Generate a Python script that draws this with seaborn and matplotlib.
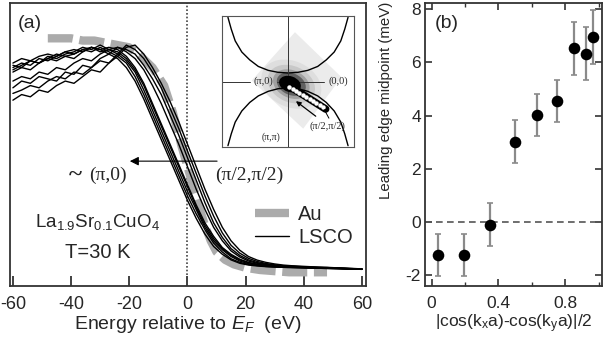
"""
ARPES leading-edge figure: (a) EDCs of LSCO vs Au reference, (b) leading edge
midpoint versus |cos(kx a) - cos(ky a)|/2.
"""
import numpy as np
import pandas as pd
import matplotlib
matplotlib.use('Agg')
import matplotlib.pyplot as plt
import seaborn as sns
from matplotlib.lines import Line2D
from matplotlib.patches import Polygon, Ellipse

# ── Data: panel (a) ──────────────────────────────────────────────────────────
energy = [-60, -57, -54, -51, -48, -45, -42, -39, -36, -33, -30, -27, -24, -21,
          -18, -15, -12, -9, -6, -3, 0, 3, 6, 9, 12, 15, 18, 21, 24, 27, 30,
          33, 36, 39, 42, 45, 48, 51, 54, 57, 60]

lsco_edcs = {
    'L1': [0.92, 0.94, 0.93, 0.95, 0.96, 0.95, 0.97, 0.98, 0.97, 0.99, 0.98, 0.96, 0.94, 0.90,
           0.84, 0.76, 0.67, 0.58, 0.49, 0.40, 0.31, 0.23, 0.16, 0.105, 0.07, 0.045, 0.03,
           0.022, 0.018, 0.015, 0.013, 0.012, 0.011, 0.010, 0.009, 0.008, 0.007, 0.006,
           0.005, 0.004, 0.003],
    'L2': [0.91, 0.90, 0.93, 0.92, 0.94, 0.96, 0.95, 0.96, 0.98, 0.97, 0.99, 0.97, 0.95, 0.92,
           0.86, 0.78, 0.69, 0.60, 0.51, 0.42, 0.33, 0.25, 0.18, 0.12, 0.08, 0.05, 0.034,
           0.025, 0.020, 0.016, 0.014, 0.012, 0.011, 0.010, 0.009, 0.008, 0.007, 0.006,
           0.005, 0.004, 0.003],
    'L3': [0.90, 0.92, 0.91, 0.94, 0.93, 0.95, 0.97, 0.96, 0.98, 0.99, 0.97, 0.98, 0.96, 0.93,
           0.88, 0.80, 0.71, 0.62, 0.53, 0.44, 0.35, 0.27, 0.19, 0.13, 0.09, 0.06, 0.04,
           0.028, 0.022, 0.018, 0.015, 0.013, 0.012, 0.011, 0.010, 0.009, 0.008, 0.007,
           0.006, 0.005, 0.004],
    'L4': [0.89, 0.91, 0.93, 0.92, 0.95, 0.94, 0.96, 0.97, 0.99, 0.98, 1.00, 0.98, 0.97, 0.94,
           0.89, 0.82, 0.73, 0.64, 0.55, 0.46, 0.37, 0.28, 0.20, 0.14, 0.095, 0.065, 0.045,
           0.032, 0.025, 0.020, 0.017, 0.015, 0.013, 0.012, 0.011, 0.010, 0.009, 0.008,
           0.006, 0.005, 0.004],
    'L5': [0.88, 0.90, 0.89, 0.92, 0.94, 0.93, 0.95, 0.94, 0.97, 0.99, 0.98, 0.99, 0.98, 0.95,
           0.90, 0.83, 0.74, 0.65, 0.56, 0.47, 0.38, 0.29, 0.21, 0.15, 0.10, 0.07, 0.048,
           0.034, 0.026, 0.021, 0.018, 0.016, 0.014, 0.012, 0.011, 0.010, 0.009, 0.008,
           0.007, 0.005, 0.004],
    'R1': [0.84, 0.86, 0.85, 0.88, 0.87, 0.90, 0.89, 0.92, 0.94, 0.93, 0.96, 0.98, 0.99, 0.97,
           0.94, 0.89, 0.82, 0.74, 0.65, 0.56, 0.46, 0.36, 0.27, 0.19, 0.13, 0.085, 0.058,
           0.040, 0.030, 0.024, 0.020, 0.017, 0.015, 0.013, 0.012, 0.011, 0.010, 0.008,
           0.007, 0.005, 0.004],
    'R2': [0.81, 0.84, 0.83, 0.86, 0.85, 0.84, 0.88, 0.87, 0.91, 0.90, 0.94, 0.96, 0.99, 0.98,
           0.96, 0.91, 0.85, 0.78, 0.69, 0.60, 0.50, 0.40, 0.30, 0.21, 0.145, 0.095, 0.065,
           0.045, 0.033, 0.026, 0.021, 0.018, 0.016, 0.014, 0.012, 0.011, 0.010, 0.009,
           0.007, 0.006, 0.004],
    'R3': [0.785, 0.80, 0.82, 0.81, 0.84, 0.86, 0.85, 0.88, 0.87, 0.90, 0.93, 0.92, 0.96, 1.00,
           0.98, 0.94, 0.88, 0.81, 0.72, 0.63, 0.53, 0.43, 0.33, 0.24, 0.165, 0.11, 0.075,
           0.052, 0.038, 0.029, 0.023, 0.019, 0.017, 0.015, 0.013, 0.012, 0.011, 0.009,
           0.008, 0.006, 0.005],
    'R4': [0.755, 0.78, 0.77, 0.80, 0.79, 0.82, 0.84, 0.83, 0.86, 0.89, 0.88, 0.92, 0.95, 0.99,
           1.00, 0.96, 0.90, 0.83, 0.75, 0.66, 0.56, 0.46, 0.36, 0.27, 0.19, 0.13, 0.088,
           0.060, 0.044, 0.034, 0.027, 0.022, 0.019, 0.017, 0.015, 0.013, 0.012, 0.010,
           0.008, 0.007, 0.005],
}

au_energy = [-48, -44, -40, -36, -32, -28, -24, -20, -16, -12, -8, -5, -2, 0, 2, 4, 6, 8,
             10, 13, 16, 20, 25, 30, 35, 40, 45, 48]
au_intensity = [1.03, 1.03, 1.03, 1.02, 1.02, 1.01, 1.00, 0.99, 0.95, 0.90, 0.82, 0.70,
                0.55, 0.46, 0.37, 0.28, 0.20, 0.13, 0.08, 0.045, 0.025, 0.01, 0.0, -0.005,
                -0.01, -0.01, -0.01, -0.01]

# ── Data: panel (b) ──────────────────────────────────────────────────────────
fs_param = [0.04, 0.196, 0.35, 0.50, 0.63, 0.75, 0.85, 0.924, 0.966]
midpoint = [-1.25, -1.25, -0.1, 3.02, 4.02, 4.54, 6.53, 6.32, 6.95]
midpoint_err = [0.8, 0.8, 0.8, 0.8, 0.8, 0.8, 1.0, 1.0, 1.0]

# ── Inset sketch (Brillouin-zone quadrant) ───────────────────────────────────
fs_x = [-0.91, -0.86, -0.80, -0.70, -0.58, -0.45, -0.30, -0.15, 0.0,
        0.15, 0.30, 0.45, 0.58, 0.70, 0.80, 0.86, 0.91]
fs_top = [0.98, 0.80, 0.62, 0.45, 0.33, 0.23, 0.17, 0.14, 0.13,
          0.14, 0.17, 0.23, 0.33, 0.45, 0.62, 0.80, 0.98]
fs_bot = [-0.98, -0.80, -0.62, -0.45, -0.32, -0.22, -0.15, -0.11, -0.10,
          -0.11, -0.15, -0.22, -0.32, -0.45, -0.62, -0.80, -0.98]
diamond = [(0.106, 0.753), (0.81, 0.066), (0.23, -0.72), (-0.55, 0.015)]
cut_start, cut_end = (0.02, -0.09), (0.53, -0.39)
n_dots = 11

sns.set_style('ticks')
plt.rcParams['font.family'] = ['Liberation Sans', 'DejaVu Sans']
plt.rcParams['mathtext.fontset'] = 'custom'
plt.rcParams['mathtext.rm'] = 'Liberation Sans'
plt.rcParams['mathtext.it'] = 'Liberation Sans:italic'
plt.rcParams['axes.unicode_minus'] = False
plt.rcParams['axes.edgecolor'] = '#333333'
plt.rcParams['axes.linewidth'] = 1.3
SERIF = ['Liberation Serif', 'DejaVu Serif']

fig = plt.figure(figsize=(6.03, 3.43), dpi=100)
ax_a = fig.add_axes([10 / 603, 57 / 343, 356 / 603, 283 / 343])
ax_b = fig.add_axes([425 / 603, 57 / 343, 177 / 603, 283 / 343])

# ── Panel (a) ────────────────────────────────────────────────────────────────
df_edc = pd.DataFrame([
    {'energy': e, 'intensity': v, 'curve': name}
    for name, vals in lsco_edcs.items() for e, v in zip(energy, vals)
])

sns.lineplot(x=au_energy, y=au_intensity, color='#ababab', lw=6.0,
             linestyle=(0, (3.0, 0.8)), solid_capstyle='butt', dash_capstyle='butt',
             ax=ax_a)
sns.lineplot(data=df_edc, x='energy', y='intensity', units='curve', estimator=None,
             color='black', lw=1.0, ax=ax_a)

ax_a.axvline(0, color='#444444', lw=1.2, ls=(0, (1, 1.2)), zorder=1)
ax_a.set_xlim(-61, 61.4)
ax_a.set_ylim(-0.071, 1.187)
ax_a.set_xticks([-60, -40, -20, 0, 20, 40, 60])
ax_a.set_yticks([])
ax_a.tick_params(axis='x', direction='in', length=7, width=1.3, labelsize=13,
                 pad=7, color='#333333')
ax_a.set_xlabel('Energy relative to $E_F$  (eV)', fontsize=14, labelpad=1)
ax_a.set_ylabel('')

ax_a.annotate('', xy=(-19.8, 0.484), xytext=(10.2, 0.484),
              arrowprops=dict(arrowstyle='-|>', color='black', lw=0.8,
                              mutation_scale=13, shrinkA=0, shrinkB=0))
ax_a.text(-38.6, 0.425, '~', family=SERIF, fontsize=18, fontweight='bold',
          ha='center', va='center')
ax_a.text(-27.3, 0.42, '(π,0)', family=SERIF, fontsize=14, ha='center', va='center')
ax_a.text(21.2, 0.42, '(π/2,π/2)', family=SERIF, fontsize=14, ha='center', va='center')

ax_a.text(0.056, 0.929, '(a)', transform=ax_a.transAxes, fontsize=14,
          ha='center', va='center')
ax_a.text(-30.9, 0.215, 'La$_{1.9}$Sr$_{0.1}$CuO$_4$', fontsize=13.5,
          ha='center', va='center')
ax_a.text(-30.9, 0.08, 'T=30 K', fontsize=14.5, ha='center', va='center')

handles = [Line2D([], [], color='#ababab', lw=6, solid_capstyle='butt'),
           Line2D([], [], color='black', lw=1.0)]
ax_a.legend(handles, ['Au', 'LSCO'], loc='upper left', bbox_to_anchor=(0.688, 0.285),
            frameon=False, fontsize=14.5, handlelength=1.7, handletextpad=0.45,
            labelspacing=0.2, borderpad=0, borderaxespad=0)

# ── Inset ────────────────────────────────────────────────────────────────────
ax_in = fig.add_axes([222 / 603, 196 / 343, 132 / 603, 131 / 343])
ax_in.set_xlim(-1, 1)
ax_in.set_ylim(-1, 1)
ax_in.set_xticks([])
ax_in.set_yticks([])
for sp in ax_in.spines.values():
    sp.set_linewidth(0.8)
    sp.set_color('#555555')

ax_in.add_patch(Polygon(diamond, closed=True, facecolor='#ebebeb', edgecolor='none', zorder=1))
halo_sizes = [(0.95, 0.70), (0.75, 0.55), (0.58, 0.42), (0.46, 0.33)]
halo_grays = ['#dedede', '#c8c8c8', '#a0a0a0', '#606060']
for (w, h), c in zip(halo_sizes, halo_grays):
    ax_in.add_patch(Ellipse((0.05, -0.04), w, h, angle=-25, facecolor=c,
                            edgecolor='none', zorder=1))
ax_in.add_patch(Ellipse((0.03, -0.04), 0.34, 0.24, angle=-20, facecolor='black',
                        edgecolor='none', zorder=3))

ax_in.plot(fs_x, fs_top, color='black', lw=1.0, zorder=2)
ax_in.plot(fs_x, fs_bot, color='black', lw=1.0, zorder=2)
ax_in.plot([0, 0], [-1, 1], color='#333333', lw=0.7, zorder=2)
ax_in.plot([-1, -0.58], [0, 0], color='#333333', lw=0.7, zorder=2)
ax_in.plot([-0.16, 0.55], [0, 0], color='#333333', lw=0.7, zorder=2)

ax_in.plot([cut_start[0], cut_end[0] + 0.04], [cut_start[1] + 0.02, cut_end[1] - 0.03],
           color='black', lw=5.5, solid_capstyle='round', zorder=3)
ax_in.plot(np.linspace(cut_start[0], cut_end[0], n_dots),
           np.linspace(cut_start[1], cut_end[1], n_dots),
           ls='none', marker='o', ms=2.2, mfc='white', mec='white', zorder=4)
ax_in.annotate('', xy=(0.12, -0.30), xytext=(0.42, -0.53),
               arrowprops=dict(arrowstyle='-|>', color='black', lw=0.9,
                               mutation_scale=7, shrinkA=0, shrinkB=0), zorder=5)
ax_in.plot([0.55, 0.62], [-0.43, -0.56], color='black', lw=0.7, zorder=4)

ax_in.text(-0.37, 0.0, '(π,0)', family=SERIF, fontsize=7.5, ha='center', va='center', zorder=5)
ax_in.text(0.755, 0.0, '(0,0)', family=SERIF, fontsize=7.5, ha='center', va='center', zorder=5)
ax_in.text(0.59, -0.69, '(π/2,π/2)', family=SERIF, fontsize=7.5, ha='center', va='center', zorder=5)
ax_in.text(-0.26, -0.85, '(π,π)', family=SERIF, fontsize=7, ha='center', va='center', zorder=5)

# ── Panel (b) ────────────────────────────────────────────────────────────────
ax_b.axhline(0, color='#555555', lw=1.2, ls=(0, (4, 2.6)), zorder=1)
ax_b.errorbar(fs_param, midpoint, yerr=midpoint_err, fmt='none', ecolor='#8a8a8a',
              elinewidth=1.6, capsize=2.5, capthick=1.2, zorder=2)
sns.scatterplot(x=fs_param, y=midpoint, color='black', s=70, edgecolor='black',
                linewidth=0, zorder=3, ax=ax_b)

ax_b.set_xlim(-0.04, 1.02)
ax_b.set_ylim(-2.41, 8.23)
ax_b.set_xticks([0, 0.4, 0.8])
ax_b.set_xticklabels(['0', '0.4', '0.8'])
ax_b.set_xticks([0.2, 0.6, 1.0], minor=True)
ax_b.set_yticks([-2, 0, 2, 4, 6, 8])
ax_b.tick_params(axis='both', which='major', direction='in', length=5, width=1.2,
                 labelsize=12.5, top=True, right=True, color='#333333')
ax_b.tick_params(axis='x', which='minor', direction='in', length=3, width=1.0,
                 top=True, color='#333333')
ax_b.tick_params(axis='y', pad=3)
ax_b.tick_params(axis='x', pad=7)
ax_b.set_xlabel('|cos(k$_\\mathrm{x}$a)-cos(k$_\\mathrm{y}$a)|/2', fontsize=12.5, labelpad=1)
ax_b.set_ylabel('Leading edge midpoint (meV)', fontsize=10.8)
ax_b.yaxis.set_label_coords(-0.18, 0.655)
ax_b.text(0.121, 0.929, '(b)', transform=ax_b.transAxes, fontsize=14,
          ha='center', va='center')

plt.savefig('out.png', dpi=100)
plt.close()
